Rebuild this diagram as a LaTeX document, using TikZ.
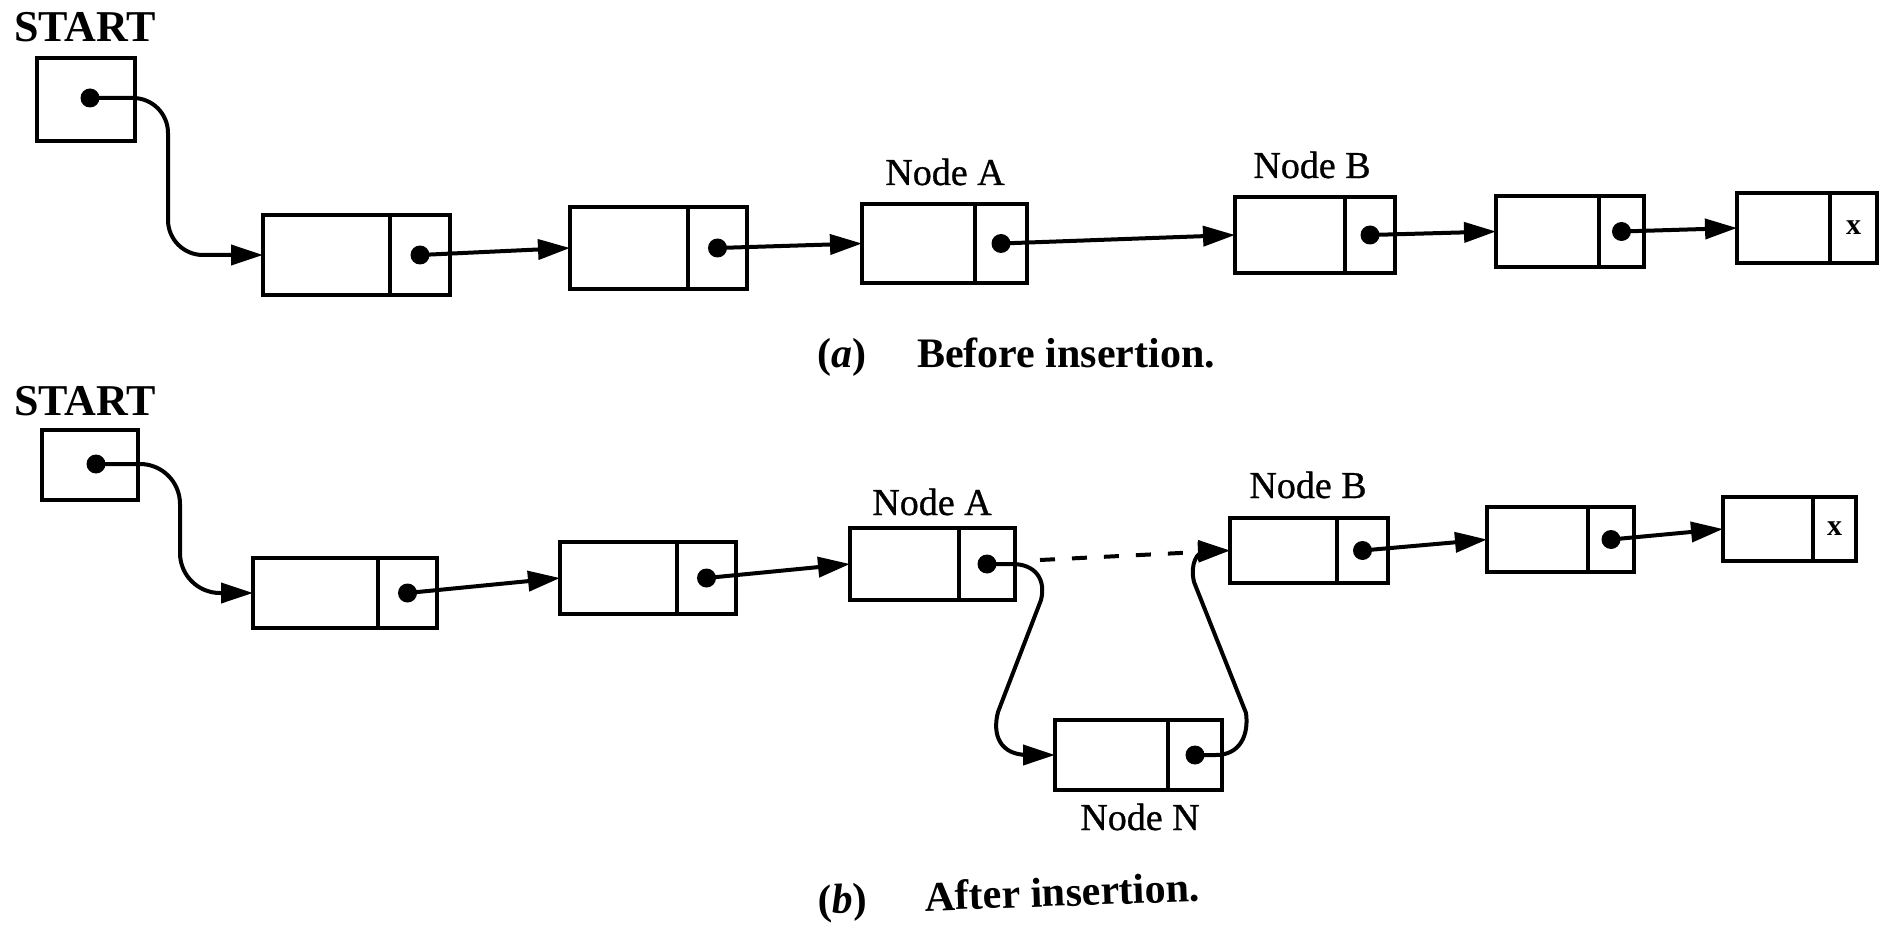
\documentclass[tikz,border=0pt]{standalone}
\usepackage{fontspec}
\setmainfont{Liberation Serif}
\newfontfamily\labelserif{Liberation Serif}[FakeBold=0.8]
\usetikzlibrary{arrows.meta,calc}

% A list node: data field #1 and pointer field #1p.
% Arguments: name, left, top, right, bottom, divider (in pt, y downwards).
\newcommand{\listcell}[6]{%
  \node[cell, minimum width={(#6-#2)*1pt}, minimum height={(#5-#3)*1pt}] (#1) at ({(#2+#6)/2},{(#3+#5)/2}) {};
  \node[cell, minimum width={(#4-#6)*1pt}, minimum height={(#5-#3)*1pt}] (#1p) at ({(#6+#4)/2},{(#3+#5)/2}) {};
}

\tikzset{
  cell/.style={draw, rectangle, line width=4.5pt, inner sep=0pt, outer sep=0pt},
  ptr/.style={circle, fill, inner sep=0pt, minimum size=19pt},
  link/.style={line width=4pt, line join=round, -{Triangle[length=32pt,width=20pt]}},
  brokenlink/.style={link, dash pattern=on 15pt off 17pt},
  lbl/.style={font=\labelserif\fontsize{38}{40}\selectfont, anchor=base, inner sep=0pt},
  head/.style={font=\fontsize{44}{46}\selectfont\bfseries, anchor=base, inner sep=0pt},
  captag/.style={font=\fontsize{42}{44}\selectfont\bfseries, anchor=base west, inner sep=0pt},
  captext/.style={font=\fontsize{42}{44}\selectfont\bfseries, anchor=base west, inner sep=0pt},
  nilmark/.style={font=\fontsize{30}{32}\selectfont\bfseries, inner sep=0pt},
}

\begin{document}
\begin{tikzpicture}[x=1pt, y=-1pt]
\useasboundingbox (0,0) rectangle (1887,925);

% ---------- (a) before insertion ----------
\node[head] (starta) at (85,42) {START};
\node[cell, minimum width=98pt, minimum height=83pt] (s1) at (86,99.5) {};
\node[ptr] (s1d) at ($(s1.center)+(4,-1.5)$) {};

\listcell{a1}{263}{215}{450}{295}{390}
\node[ptr] (a1d) at (a1p.center) {};
\listcell{a2}{570}{207}{747}{289}{688}
\node[ptr] (a2d) at (a2p.center) {};
\listcell{a3}{862}{204}{1027}{283}{975}
\node[ptr] (a3d) at (a3p.center) {};
\listcell{a4}{1235}{197}{1395}{273}{1345}
\node[ptr] (a4d) at (a4p.center) {};
\listcell{a5}{1496}{196}{1644}{267}{1599}
\node[ptr] (a5d) at (a5p.center) {};
\listcell{a6}{1737}{193}{1877}{263}{1830}
\node[nilmark] (a6x) at (a6p.center) {x};

\node[lbl] (labA1) at (945,185) {Node A};
\node[lbl] (labB1) at (1312,178) {Node B};

\coordinate (k1) at (168,0);
\draw[link, rounded corners=35pt] (s1d.center) -- (s1d.center -| k1) -- (a1.west -| k1) -- (a1.west);
\draw[link] (a1d.center) -- (a2.west);
\draw[link] (a2d.center) -- (a3.west);
\draw[link] (a3d.center) -- (a4.west);
\draw[link] (a4d.center) -- (a5.west);
\draw[link] (a5d.center) -- (a6.west);

\node[captag] (capa1) at (817,367) {(\textit{a})};
\node[captext] (capa2) at (917,367) {Before insertion.};

% ---------- (b) after insertion ----------
\node[head] (startb) at (85,415) {START};
\node[cell, minimum width=96pt, minimum height=70pt] (s2) at (90,465) {};
\node[ptr] (s2d) at ($(s2.center)+(6,-1)$) {};

\listcell{b1}{253}{558}{437}{628}{378}
\node[ptr] (b1d) at (b1p.center) {};
\listcell{b2}{560}{542}{736}{614}{677}
\node[ptr] (b2d) at (b2p.center) {};
\listcell{b3}{850}{528}{1015}{600}{959}
\node[ptr] (b3d) at (b3p.center) {};
\listcell{b4}{1230}{518}{1388}{583}{1337}
\node[ptr] (b4d) at (b4p.center) {};
\listcell{b5}{1487}{507}{1634}{572}{1588}
\node[ptr] (b5d) at (b5p.center) {};
\listcell{b6}{1723}{497}{1856}{561}{1813}
\node[nilmark] (b6x) at (b6p.center) {x};
\listcell{bN}{1055}{720}{1222}{790}{1168}
\node[ptr] (bNd) at (bNp.center) {};

\node[lbl] (labA2) at (932,515) {Node A};
\node[lbl] (labB2) at (1308,498) {Node B};
\node[lbl] (labN2) at (1140,830) {Node N};

\coordinate (k2) at (180,0);
\draw[link, rounded corners=40pt] (s2d.center) -- (s2d.center -| k2) -- (b1.west -| k2) -- (b1.west);
\draw[link] (b1d.center) -- (b2.west);
\draw[link] (b2d.center) -- (b3.west);
\draw[link] (b4d.center) -- (b5.west);
\draw[link] (b5d.center) -- (b6.west);

% old link A -> B, now broken
\coordinate (oldA) at (1040,560);
\draw[brokenlink] (oldA) -- (b4.west);
% new links A -> N -> B
\draw[link] (b3d.center) -- (1012,564)
  .. controls (1036,564) and (1046,580) .. (1041,600)
  -- (998,712)
  .. controls (992,735) and (1000,755) .. (1028,755) -- (bN.west);
\draw[link] (bNd.center) -- (1216,755)
  .. controls (1240,755) and (1249,735) .. (1246,713)
  -- (1194,582)
  .. controls (1190,565) and (1196,550.5) .. (1208,550.5) -- (b4.west);

\node[captag, rotate=2] (capb1) at (818,914) {(\textit{b})};
\node[captext, rotate=2] (capb2) at (925,911) {After insertion.};
\end{tikzpicture}
\end{document}
